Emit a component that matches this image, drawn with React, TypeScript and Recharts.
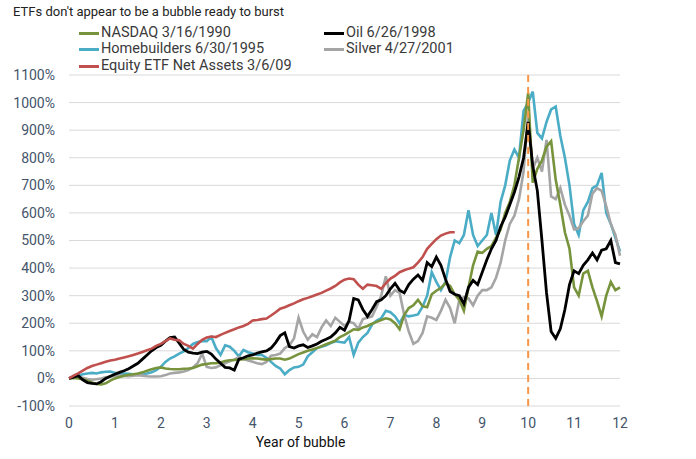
import React from 'react';
import { LineChart, Line, XAxis, YAxis, CartesianGrid, ReferenceLine } from 'recharts';

const years: number[] = Array.from({ length: 121 }, (_, i) => i / 10);

const nasdaq: number[] = [
  0, 2, 0, -3, -8, -15, -20, -22, -18, -8,
  0, 5, 10, 13, 15, 18, 22, 28, 33, 38,
  40, 36, 34, 33, 33, 35, 36, 38, 44, 50,
  52, 55, 55, 58, 63, 66, 67, 68, 70, 72,
  73, 72, 70, 68, 70, 72, 72, 68, 72, 80,
  88, 94, 100, 105, 110, 117, 124, 130, 137, 150,
  158, 168, 178, 176, 185, 190, 198, 205, 212, 218,
  214, 200, 178, 230, 255, 265, 285, 262, 258, 305,
  318, 328, 345, 335, 305, 285, 245, 330, 410, 460,
  455, 470, 480, 510, 540, 600, 640, 700, 800, 900,
  1035, 710, 760, 790, 840, 860, 720, 630, 530, 470,
  330, 300, 380, 390, 330, 280, 225, 300, 350, 320,
  330,
];

const oil: number[] = [
  0, 5, 10, -5, -15, -18, -20, -12, 0, 8,
  15, 22, 28, 35, 45, 55, 70, 85, 100, 112,
  120, 135, 148, 150, 128, 105, 95, 92, 90, 95,
  98, 88, 70, 55, 40, 38, 30, 70, 75, 82,
  85, 92, 96, 100, 110, 130, 155, 165, 115, 110,
  118, 122, 112, 118, 125, 135, 142, 150, 165, 185,
  175, 210, 290, 285, 250, 225, 250, 278, 285, 300,
  325, 345, 320, 310, 340, 360, 375, 355, 420, 405,
  440, 410, 360, 315, 305, 300, 270, 330, 355, 340,
  385, 430, 470, 500, 550, 585, 630, 675, 730, 800,
  930, 770, 680, 500, 310, 170, 145, 180, 250, 340,
  390, 380, 410, 430, 455, 430, 465, 470, 500, 420,
  415,
];

const homebuilders: number[] = [
  0, 5, 10, 15, 18, 20, 18, 22, 24, 25,
  20, 17, 18, 17, 15, 13, 15, 18, 22, 30,
  42, 60, 72, 80, 90, 98, 110, 125, 132, 135,
  135, 150, 110, 85, 120, 115, 100, 80, 103, 95,
  90, 85, 85, 75, 60, 45, 36, 15, 30, 40,
  42, 50, 80, 95, 110, 115, 120, 128, 135, 132,
  130, 150, 85, 130, 150, 165, 195, 210, 218, 245,
  240, 225, 200, 230, 225, 228, 232, 260, 300, 385,
  350, 320, 350, 440, 500, 490, 520, 610, 520, 480,
  500, 520, 600, 520, 640, 700, 790, 830, 800, 970,
  1000, 1040, 890, 870, 930, 975, 985, 880, 800, 700,
  560, 520, 610, 640, 690, 700, 745, 600, 560, 510,
  460,
];

const silver: number[] = [
  0, 3, 5, 2, -2, -5, -3, 0, 4, 7,
  8, 10, 9, 8, 10, 12, 10, 8, 7, 7,
  8, 12, 18, 20, 22, 25, 30, 40, 55, 90,
  42, 38, 40, 48, 55, 62, 68, 78, 70, 65,
  60, 55, 52, 60, 82, 85, 90, 110, 120, 145,
  220, 170, 140, 160, 150, 185, 210, 190, 220, 205,
  190, 205, 200, 180, 215, 220, 225, 260, 300, 370,
  300, 320, 310, 230, 170, 125, 135, 165, 225, 220,
  212, 245, 285, 255, 200, 285, 295, 290, 265, 300,
  320, 320, 330, 365, 420, 500, 560, 590, 650, 750,
  960, 760, 800, 750, 865, 660, 650, 690, 630, 590,
  540, 545, 570, 590, 670, 690, 680, 625, 560, 520,
  445,
];

const equityEtf: (number | null)[] = [
  0, 10, 18, 28, 38, 45, 50, 55, 60, 65,
  68, 72, 76, 80, 85, 90, 96, 102, 108, 118,
  125, 135, 145, 140, 138, 125, 118, 108, 125, 140,
  148, 152, 150, 158, 165, 172, 178, 185, 190, 198,
  210, 212, 215, 217, 228, 240, 253, 258, 265, 272,
  280, 287, 292, 298, 304, 310, 318, 326, 335, 348,
  358, 362, 360, 340, 325, 340, 338, 335, 325, 345,
  362, 372, 385, 392, 398, 403, 420, 440, 470, 488,
  505, 518, 525, 530, 530,
];

const xTicks: number[] = [0, 1, 2, 3, 4, 5, 6, 7, 8, 9, 10, 11, 12];
const yTicks: number[] = [-100, 0, 100, 200, 300, 400, 500, 600, 700, 800, 900, 1000, 1100];

const seriesNames = {
  nasdaq: 'NASDAQ 3/16/1990',
  oil: 'Oil 6/26/1998',
  homebuilders: 'Homebuilders 6/30/1995',
  silver: 'Silver 4/27/2001',
  equityEtf: 'Equity ETF Net Assets 3/6/09',
};

const colors = {
  nasdaq: '#77933c',
  oil: '#000000',
  homebuilders: '#4bacc6',
  silver: '#a5a5a5',
  equityEtf: '#c0504d',
};

const data = years.map((x, i) => ({
  x,
  nasdaq: nasdaq[i],
  oil: oil[i],
  homebuilders: homebuilders[i],
  silver: silver[i],
  equityEtf: i < equityEtf.length ? equityEtf[i] : null,
}));

const FONT = 'Roboto, "Liberation Sans", Arial, sans-serif';
const TICK_COLOR = '#44546a';

const LegendItem = ({ color, label, left, top }: { color: string; label: string; left: number; top: number }) => (
  <div style={{ position: 'absolute', left, top, display: 'flex', alignItems: 'center', height: 16, lineHeight: '16px' }}>
    <div style={{ width: 20, height: 3, background: color, marginRight: 2 }} />
    <span style={{ fontFamily: FONT, fontSize: 14.5, lineHeight: '16px', color: '#3a3a3a', whiteSpace: 'nowrap' }}>{label}</span>
  </div>
);

export default function App() {
  return (
    <div style={{ position: 'absolute', left: 0, top: 0, width: 696, height: 459, background: '#fff' }}>
      <div
        style={{
          position: 'absolute',
          left: 13,
          top: 4,
          fontFamily: FONT,
          fontSize: 13,
          lineHeight: '16px',
          color: '#222',
          whiteSpace: 'nowrap',
        }}
      >
        ETFs don't appear to be a bubble ready to burst
      </div>
      <LegendItem color={colors.nasdaq} label={seriesNames.nasdaq} left={79} top={25} />
      <LegendItem color={colors.homebuilders} label={seriesNames.homebuilders} left={79} top={41} />
      <LegendItem color={colors.equityEtf} label={seriesNames.equityEtf} left={79} top={58} />
      <LegendItem color={colors.oil} label={seriesNames.oil} left={324} top={25} />
      <LegendItem color={colors.silver} label={seriesNames.silver} left={324} top={41} />
      <div style={{ position: 'absolute', left: 0, top: 0 }}>
        <LineChart width={696} height={459} data={data} margin={{ top: 75, right: 76, bottom: 8, left: 0 }}>
          <CartesianGrid vertical={false} stroke="#d9d9d9" strokeWidth={1} />
          <XAxis
            type="number"
            dataKey="x"
            domain={[0, 12]}
            ticks={xTicks}
            interval={0}
            axisLine={false}
            tickLine={false}
            tickMargin={6}
            height={45}
            tick={{ fill: TICK_COLOR, fontSize: 14, fontFamily: FONT }}
            label={{
              value: 'Year of bubble',
              position: 'insideBottom',
              dx: -44,
              offset: 4,
              style: { fill: '#111', fontSize: 14, fontFamily: FONT },
            }}
          />
          <YAxis
            type="number"
            domain={[-100, 1100]}
            ticks={yTicks}
            interval={0}
            width={69}
            axisLine={false}
            tickLine={false}
            tickMargin={8}
            tickFormatter={(v: number) => `${v}%`}
            tick={{ fill: TICK_COLOR, fontSize: 14, fontFamily: FONT }}
          />
          <Line dataKey="homebuilders" stroke={colors.homebuilders} strokeWidth={2.6} dot={false} isAnimationActive={false} />
          <Line dataKey="silver" stroke={colors.silver} strokeWidth={2.6} dot={false} isAnimationActive={false} />
          <Line dataKey="nasdaq" stroke={colors.nasdaq} strokeWidth={2.6} dot={false} isAnimationActive={false} />
          <Line dataKey="oil" stroke={colors.oil} strokeWidth={2.8} dot={false} isAnimationActive={false} />
          <Line dataKey="equityEtf" stroke={colors.equityEtf} strokeWidth={2.6} dot={false} isAnimationActive={false} />
          <ReferenceLine x={10} stroke="#f79646" strokeWidth={2} strokeDasharray="7 5" ifOverflow="extendDomain" />
        </LineChart>
      </div>
    </div>
  );
}
